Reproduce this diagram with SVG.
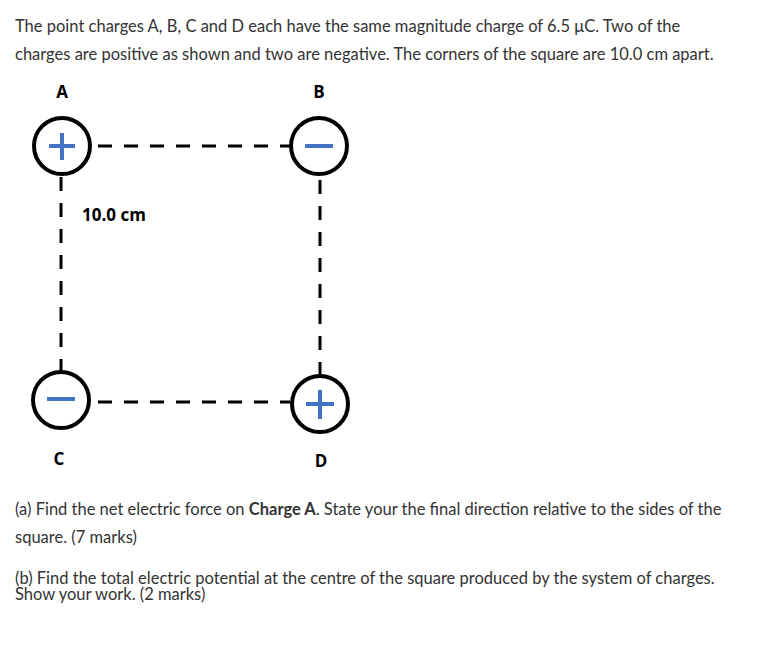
<svg xmlns="http://www.w3.org/2000/svg" width="760" height="650" viewBox="0 0 760 650">
<style>
.t{font-family:Lato,"Liberation Sans",sans-serif;font-size:16.5px;fill:#333}
.l{font-family:"Open Sans","Liberation Sans",sans-serif;font-size:17px;font-weight:bold;fill:#000}
.c{fill:#fff;stroke:#000;stroke-width:4}
.s{stroke:#4472c4;stroke-width:4;fill:none}
.d{stroke:#000;stroke-width:3;stroke-dasharray:14,12;fill:none}
</style>
<rect width="760" height="650" fill="#fff"/>
<text class="t" x="15" y="32">The point charges A, B, C and D each have the same magnitude charge of 6.5 μC.  Two of the</text>
<text class="t" x="15" y="60">charges are positive as shown and two are negative. The corners of the square are 10.0 cm apart.</text>
<g id="connectors">
<path class="d" d="M98 146H290"/>
<path class="d" d="M98 402H290"/>
<path class="d" d="M61 177V372"/>
<path class="d" d="M320 180V374"/>
</g>
<g id="A"><circle class="c" cx="62" cy="146" r="28"/><path class="s" d="M49 146H75M62 133V160"/><text class="l" x="62" y="98" text-anchor="middle">A</text></g>
<g id="B"><circle class="c" cx="319" cy="146" r="28"/><path class="s" d="M305 146H333"/><text class="l" x="319" y="98" text-anchor="middle">B</text></g>
<g id="C"><circle class="c" cx="61" cy="400" r="28"/><path class="s" d="M47 399H75"/><text class="l" x="59" y="465" text-anchor="middle">C</text></g>
<g id="D"><circle class="c" cx="320" cy="404" r="28"/><path class="s" d="M306 404H334M320 390V419"/><text class="l" x="321" y="467" text-anchor="middle">D</text></g>
<text class="l" x="82" y="221" font-size="16">10.0 cm</text>
<text class="t" x="15" y="515">(a) Find the net electric force on <tspan font-weight="bold">Charge A</tspan>. State your the final direction relative to the sides of the</text>
<text class="t" x="15" y="543">square. (7  marks)</text>
<text class="t" x="15" y="584">(b) Find the total electric potential at the centre of the square produced by the system of charges.</text>
<text class="t" x="15" y="600">Show your work. (2 marks)</text>
</svg>
